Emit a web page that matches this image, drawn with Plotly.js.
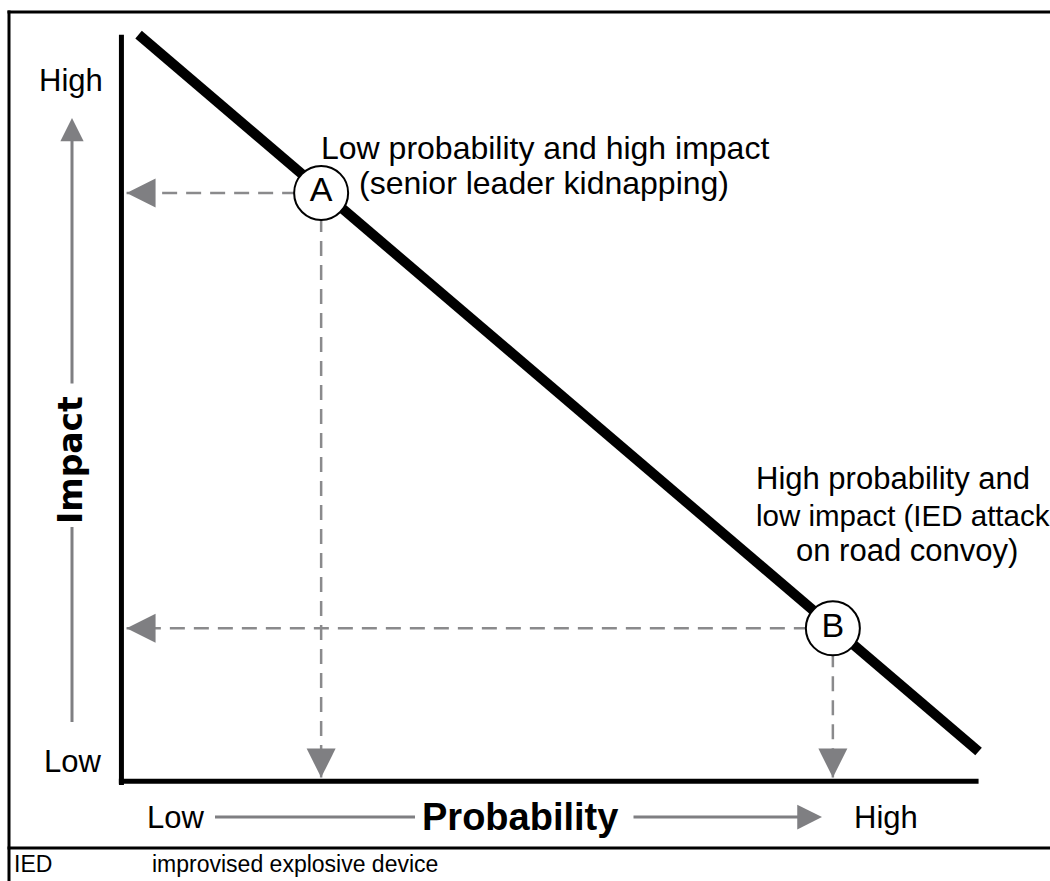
<!DOCTYPE html>
<html>
<head>
<meta charset="utf-8">
<script src="https://cdn.plot.ly/plotly-3.0.1.min.js"></script>
<style>
html, body { margin: 0; padding: 0; background: #ffffff; }
#chart { width: 1050px; height: 881px; }
</style>
</head>
<body>
<div id="chart"></div>
<script>
// ---------------- data ----------------
const riskLineProbability = [0.2, 10];
const riskLineImpact = [10, 0.4];
const eventLabels = ['A', 'B'];
const eventProbability = [2.33, 8.3];
const eventImpact = [7.88, 2.05];
const eventDescriptionA = ['Low probability and high impact', '(senior leader kidnapping)'];
const eventDescriptionB = ['High probability and', 'low impact (IED attack', 'on road convoy)'];
const levelLabels = ['Low', 'High'];
const axisNames = ['Probability', 'Impact'];
const abbreviation = ['IED', 'improvised explosive device'];

// ---------------- helpers ----------------
const W = 1050, H = 881;
const PX = v => v / W;          // pixel x -> paper
const PY = v => 1 - v / H;      // pixel y -> paper
const FONT = 'Liberation Sans, Arial, Helvetica, sans-serif';
const GREY = '#7f7f82';
const DASHGREY = '#8a8a8c';

// arrow tips sit just against the axis lines
const tipX = 0.06;
const tipY = 0.05;

// dashed guides from each event to both axes
const guideX = [], guideY = [];
const headX = [], headY = [], headSym = [];
for (let i = 0; i < eventLabels.length; i++) {
  guideX.push(eventProbability[i], tipX, null, eventProbability[i], eventProbability[i], null);
  guideY.push(eventImpact[i], eventImpact[i], null, eventImpact[i], tipY, null);
  headX.push(tipX, eventProbability[i]);
  headY.push(eventImpact[i], tipY);
  headSym.push('arrow-left', 'arrow-down');
}

const traces = [
  {
    x: guideX, y: guideY, mode: 'lines', type: 'scatter',
    line: { color: DASHGREY, width: 2.5, dash: '15px,9px' },
    hoverinfo: 'skip'
  },
  {
    x: headX, y: headY, mode: 'markers', type: 'scatter',
    marker: { symbol: headSym, size: 29, color: GREY, line: { width: 0 } },
    hoverinfo: 'skip', cliponaxis: false
  },
  {
    x: riskLineProbability, y: riskLineImpact, mode: 'lines', type: 'scatter',
    line: { color: '#000000', width: 10 },
    hoverinfo: 'skip'
  },
  {
    x: eventProbability, y: eventImpact, text: eventLabels,
    mode: 'markers+text', type: 'scatter', textposition: 'middle center',
    marker: { symbol: 'circle', size: 54, color: '#ffffff', line: { color: '#000000', width: 2 } },
    textfont: { family: FONT, size: 34, color: '#000000' },
    hoverinfo: 'skip', cliponaxis: false
  }
];

const shapes = [
  // axes
  { type: 'line', xref: 'x', yref: 'y', x0: 0, x1: 0, y0: -0.05, y1: 10, line: { color: '#000', width: 5 } },
  { type: 'line', xref: 'x', yref: 'y', x0: -0.03, x1: 10, y0: 0, y1: 0, line: { color: '#000', width: 5 } },
  // frame
  { type: 'line', xref: 'paper', yref: 'paper', x0: PX(7.5), x1: PX(1060), y0: PY(12), y1: PY(12), line: { color: '#000', width: 3 } },
  { type: 'line', xref: 'paper', yref: 'paper', x0: PX(9), x1: PX(9), y0: PY(10.5), y1: PY(890), line: { color: '#000', width: 3 } },
  { type: 'line', xref: 'paper', yref: 'paper', x0: PX(7.5), x1: PX(1060), y0: PY(848), y1: PY(848), line: { color: '#000', width: 3 } },
  // axis-name guide segments without heads
  { type: 'line', xref: 'paper', yref: 'paper', x0: PX(72), x1: PX(72), y0: PY(527), y1: PY(722), line: { color: GREY, width: 3 } },
  { type: 'line', xref: 'paper', yref: 'paper', x0: PX(215), x1: PX(415), y0: PY(817), y1: PY(817), line: { color: GREY, width: 3 } }
];

function label(text, xpx, ypx, size, opts) {
  return Object.assign({
    text: text, xref: 'paper', yref: 'paper', x: PX(xpx), y: PY(ypx),
    xanchor: 'center', yanchor: 'middle', showarrow: false,
    font: { family: FONT, size: size, color: '#000000' }
  }, opts || {});
}

const annotations = [
  // event A description
  label(eventDescriptionA[0], 545, 148, 32),
  label(eventDescriptionA[1], 544, 183, 32),
  // event B description
  label(eventDescriptionB[0], 893, 479, 31),
  label(eventDescriptionB[1], 903, 515, 29.5),
  label(eventDescriptionB[2], 907, 550, 31),
  // impact axis
  label(levelLabels[1], 71, 80, 31),
  label(levelLabels[0], 72, 761, 31),
  label('<b>' + axisNames[1] + '</b>', 70, 460, 33, { textangle: -90, font: { family: 'DejaVu Sans, sans-serif', size: 33, color: '#000' } }),
  // probability axis
  label(levelLabels[0], 175, 817, 31),
  label('<b>' + axisNames[0] + '</b>', 520, 817, 38),
  label(levelLabels[1], 886, 817, 31),
  // arrows of axis names
  {
    text: '', xref: 'paper', yref: 'paper', x: PX(72), y: PY(118), showarrow: true,
    axref: 'pixel', ayref: 'pixel', ax: 0, ay: 267,
    arrowhead: 2, arrowwidth: 3, arrowsize: 1.55, arrowcolor: GREY
  },
  {
    text: '', xref: 'paper', yref: 'paper', x: PX(822), y: PY(817), showarrow: true,
    axref: 'pixel', ayref: 'pixel', ax: -190, ay: 0,
    arrowhead: 2, arrowwidth: 3, arrowsize: 1.65, arrowcolor: GREY
  },
  // footer
  label(abbreviation[0], 12, 864, 23, { xanchor: 'left' }),
  label(abbreviation[1], 150, 864, 23, { xanchor: 'left' })
];

const layout = {
  width: W, height: H,
  margin: { l: 0, r: 0, t: 0, b: 0, pad: 0 },
  paper_bgcolor: '#ffffff', plot_bgcolor: 'rgba(0,0,0,0)',
  showlegend: false, hovermode: false,
  xaxis: { domain: [PX(100), PX(1000)], range: [-0.25, 10.25], visible: false, fixedrange: true },
  yaxis: { domain: [PY(800), PY(16)], range: [-0.25, 10.25], visible: false, fixedrange: true },
  shapes: shapes,
  annotations: annotations
};

Plotly.newPlot('chart', traces, layout, { staticPlot: true, displayModeBar: false });
</script>
</body>
</html>
